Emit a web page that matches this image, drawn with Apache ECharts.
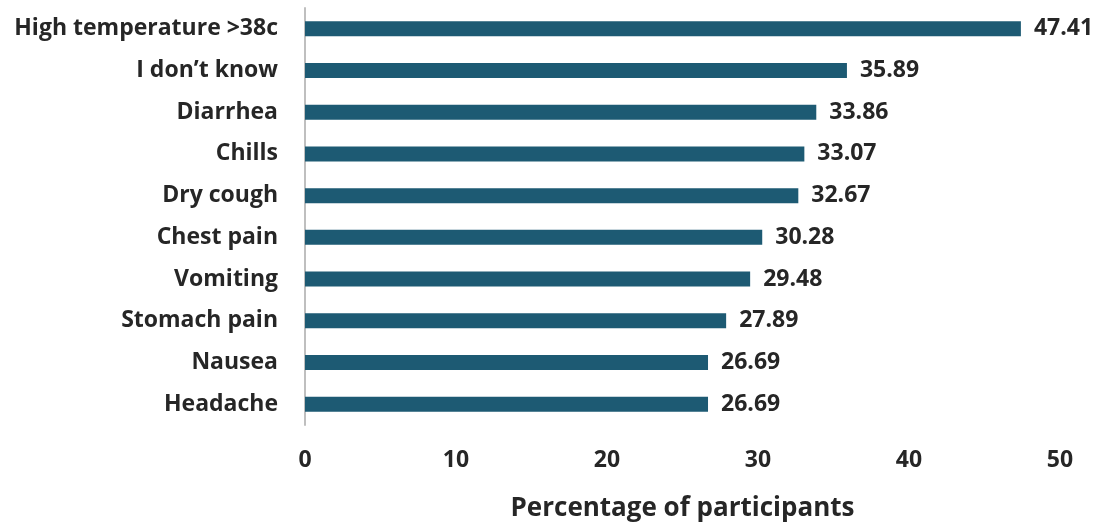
<!DOCTYPE html>
<html>
<head>
<meta charset="utf-8">
<script src="https://cdn.jsdelivr.net/npm/echarts@6/dist/echarts.min.js"></script>
<style>html,body{margin:0;padding:0;background:#fff;}#c{width:1105px;height:527px;}</style>
</head>
<body>
<div id="c"></div>
<script>
const categories = ["High temperature >38c","I don\u2019t know","Diarrhea","Chills","Dry cough","Chest pain","Vomiting","Stomach pain","Nausea","Headache"];
const values = [47.41,35.89,33.86,33.07,32.67,30.28,29.48,27.89,26.69,26.69];
const xTicks = [0,10,20,30,40,50];
const axisTitle = "Percentage of participants";

const font = "Open Sans";
const chart = echarts.init(document.getElementById('c'), null, {renderer:'canvas'});
chart.setOption({
  animation:false,
  grid:{left:305, right:45, top:8, bottom:99, containLabel:false},
  xAxis:{
    type:'value', min:xTicks[0], max:xTicks[xTicks.length-1], interval:10,
    axisLine:{show:false}, axisTick:{show:false}, splitLine:{show:false},
    axisLabel:{fontFamily:font, fontWeight:'bold', fontSize:23, color:'#262626', margin:24},
    name:axisTitle, nameLocation:'middle', nameGap:71,
    nameTextStyle:{fontFamily:font, fontWeight:'bold', fontSize:26, color:'#262626'}
  },
  yAxis:{
    type:'category', data:categories, inverse:true,
    axisLine:{show:true, lineStyle:{color:'#bfbfbf', width:2}},
    axisTick:{show:false},
    axisLabel:{fontFamily:font, fontWeight:'bold', fontSize:23, color:'#262626', margin:27}
  },
  series:[{
    type:'bar', data:values, barWidth:15,
    itemStyle:{color:'#1d5a73'},
    label:{show:true, position:'right', distance:13, fontFamily:font, fontWeight:'bold', fontSize:23, color:'#262626',
      formatter:p=>p.value.toFixed(2)}
  }]
});
</script>
</body>
</html>
